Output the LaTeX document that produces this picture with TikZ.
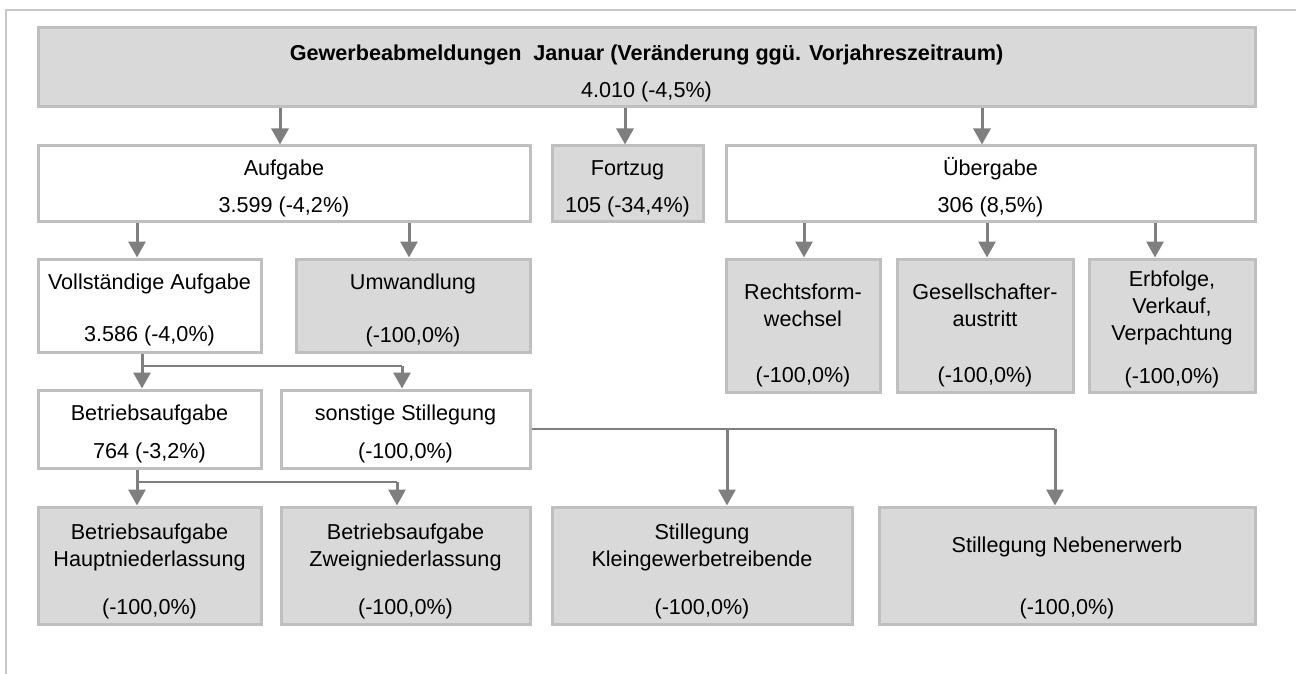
\documentclass[tikz,border=0pt]{standalone}
\usepackage{fontspec}
\setmainfont{Liberation Sans}
\usetikzlibrary{arrows.meta, positioning, fit}
\definecolor{boxgray}{HTML}{D9D9D9}
\definecolor{edgegray}{HTML}{BFBFBF}
\definecolor{arrgray}{HTML}{7F7F7F}
\definecolor{framegray}{HTML}{C8C8C8}

\tikzset{
  wbox/.style={draw=edgegray, line width=1.5pt, fill=white, inner sep=0pt, fit={#1}},
  gbox/.style={wbox={#1}, fill=boxgray},
  lbl/.style={inner sep=0pt, text height=7.7pt, text depth=0pt,
    font=\fontsize{10.8pt}{13pt}\selectfont},
  arr/.style={draw=arrgray, line width=1.5pt, -{Triangle[length=8pt,width=8.5pt]}},
  branch/.style={draw=arrgray, line width=1pt},
}

\begin{document}
\begin{tikzpicture}[x=0.5pt, y=-0.5pt]
    \useasboundingbox (0,0) rectangle (1296,674);
    % Frame
    \draw[framegray, line width=1pt] (6,690) -- (6,10) -- (1310,10);

    % Top box
    \node[gbox={(38,28) (1255,107)}] (top) {};
    \node[lbl] (topT) at (top.north |- 0,53) {\textbf{Gewerbeabmeldungen~ Januar (Veränderung ggü. Vorjahreszeitraum)}};
    \node[lbl] (topV) at (top.north |- 0,90) {4.010 (-4,5\%)};

    % Second row
    \node[wbox={(38,146) (530,221)}] (aufg) {};
    \node[lbl] (aufgT) at (aufg.north |- 0,168) {Aufgabe};
    \node[lbl] (aufgV) at (aufg.north |- 0,205) {3.599 (-4,2\%)};

    \node[gbox={(552,146) (703,221)}] (fortz) {};
    \node[lbl] (fortzT) at (fortz.north |- 0,168) {Fortzug};
    \node[lbl] (fortzV) at (fortz.north |- 0,205) {105 (-34,4\%)};

    \node[wbox={(726,146) (1255,221)}] (uebg) {};
    \node[lbl] (uebgT) at (uebg.north |- 0,168) {Übergabe};
    \node[lbl] (uebgV) at (uebg.north |- 0,205) {306 (8,5\%)};

    % Third row, left
    \node[wbox={(38,259) (261,352)}] (vollst) {};
    \node[lbl] (vollstT) at (vollst.north |- 0,282) {Vollständige Aufgabe};
    \node[lbl] (vollstV) at (vollst.north |- 0,334) {3.586 (-4,0\%)};

    \node[gbox={(296,259) (530,352)}] (umw) {};
    \node[lbl] (umwT) at (umw.north |- 0,282) {Umwandlung};
    \node[lbl] (umwV) at (umw.north |- 0,335) {(-100,0\%)};

    % Third row, right
    \node[gbox={(726,259) (880,392)}] (rechts) {};
    \node[lbl] (rechtsT) at (rechts.north |- 0,292) {Rechtsform-};
    \node[lbl] (rechtsU) at (rechts.north |- 0,319) {wechsel};
    \node[lbl] (rechtsV) at (rechts.north |- 0,375) {(-100,0\%)};

    \node[gbox={(897,259) (1073,392)}] (gesell) {};
    \node[lbl] (gesellT) at (gesell.north |- 0,292) {Gesellschafter-};
    \node[lbl] (gesellU) at (gesell.north |- 0,319) {austritt};
    \node[lbl] (gesellV) at (gesell.north |- 0,375) {(-100,0\%)};

    \node[gbox={(1089,259) (1255,392)}] (erb) {};
    \node[lbl] (erbT) at (erb.north |- 0,279) {Erbfolge,};
    \node[lbl] (erbU) at (erb.north |- 0,306) {Verkauf,};
    \node[lbl] (erbW) at (erb.north |- 0,333) {Verpachtung};
    \node[lbl] (erbV) at (erb.north |- 0,376) {(-100,0\%)};

    % Fourth row
    \node[wbox={(38,390) (261,468)}] (betr) {};
    \node[lbl] (betrT) at (betr.north |- 0,413) {Betriebsaufgabe};
    \node[lbl] (betrV) at (betr.north |- 0,451) {764 (-3,2\%)};

    \node[wbox={(281,390) (530,468)}] (sonst) {};
    \node[lbl] (sonstT) at (sonst.north |- 0,413) {sonstige Stillegung};
    \node[lbl] (sonstV) at (sonst.north |- 0,451) {(-100,0\%)};

    % Bottom row
    \node[gbox={(38,507) (261,624)}] (haupt) {};
    \node[lbl] (hauptT) at (haupt.north |- 0,532) {Betriebsaufgabe};
    \node[lbl] (hauptU) at (haupt.north |- 0,559) {Hauptniederlassung};
    \node[lbl] (hauptV) at (haupt.north |- 0,607) {(-100,0\%)};

    \node[gbox={(281,507) (530,624)}] (zweig) {};
    \node[lbl] (zweigT) at (zweig.north |- 0,532) {Betriebsaufgabe};
    \node[lbl] (zweigU) at (zweig.north |- 0,559) {Zweigniederlassung};
    \node[lbl] (zweigV) at (zweig.north |- 0,607) {(-100,0\%)};

    \node[gbox={(552,507) (852,624)}] (klein) {};
    \node[lbl] (kleinT) at (klein.north |- 0,532) {Stillegung};
    \node[lbl] (kleinU) at (klein.north |- 0,559) {Kleingewerbetreibende};
    \node[lbl] (kleinV) at (klein.north |- 0,607) {(-100,0\%)};

    \node[gbox={(879,507) (1255,624)}] (neben) {};
    \node[lbl] (nebenT) at (neben.north |- 0,545) {Stillegung Nebenerwerb};
    \node[lbl] (nebenV) at (neben.north |- 0,607) {(-100,0\%)};

    % Arrows from top box
    \draw[arr] (top.south -| 280,0) -- (aufg.north -| 280,0);
    \draw[arr] (top.south -| 625,0) -- (fortz.north -| 625,0);
    \draw[arr] (top.south -| 982,0) -- (uebg.north -| 982,0);

    % Arrows from Aufgabe and Uebergabe
    \draw[arr] (aufg.south -| 137,0) -- (vollst.north -| 137,0);
    \draw[arr] (aufg.south -| 409,0) -- (umw.north -| 409,0);
    \draw[arr] (uebg.south -| 804,0) -- (rechts.north -| 804,0);
    \draw[arr] (uebg.south -| 987,0) -- (gesell.north -| 987,0);
    \draw[arr] (uebg.south -| 1155,0) -- (erb.north -| 1155,0);

    % Split below Vollstaendige Aufgabe
    \coordinate (vsplit) at (142,366);
    \draw[arr] (vollst.south -| vsplit) -- (betr.north -| vsplit);
    \draw[branch] (vsplit) -- (vsplit -| 402,0);
    \draw[arr] (vsplit -| 402,0) -- (sonst.north -| 402,0);

    % Split below Betriebsaufgabe
    \coordinate (bsplit) at (137,482);
    \draw[arr] (betr.south -| bsplit) -- (haupt.north -| bsplit);
    \draw[branch] (bsplit) -- (bsplit -| 397,0);
    \draw[arr] (bsplit -| 397,0) -- (zweig.north -| 397,0);

    % From sonstige Stillegung
    \draw[branch] (sonst.east) -- (sonst.east -| 1055,0);
    \draw[arr] (sonst.east -| 727,0) -- (klein.north -| 727,0);
    \draw[arr] (sonst.east -| 1055,0) -- (neben.north -| 1055,0);
\end{tikzpicture}
\end{document}
